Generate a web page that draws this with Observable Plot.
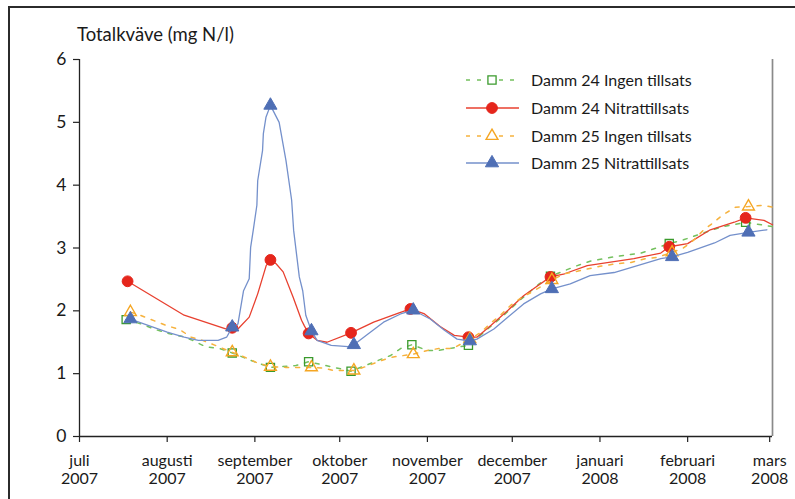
<!DOCTYPE html>
<html><head><meta charset="utf-8">
<script src="https://cdn.jsdelivr.net/npm/d3@7"></script>
<script src="https://cdn.jsdelivr.net/npm/@observablehq/plot@0.6"></script>
<style>
body{margin:0;background:#fff;overflow:hidden;}
#wrap{position:relative;width:795px;height:499px;overflow:hidden;background:#fff;font-family:Lato,sans-serif;}
#frame{position:absolute;left:8px;top:6px;width:900px;height:700px;border:2px solid #2b2b2b;box-sizing:border-box;}
#chart{position:absolute;left:0;top:0;}
#overlay{position:absolute;left:0;top:0;}
</style></head><body>
<div id="wrap"><div id="frame"></div><div id="chart"></div><svg id="overlay" width="795" height="499"></svg></div>
<script>
// ---- data ----
const yTitle = "Totalkväve (mg N/l)";
const seriesNames = ["Damm 24 Ingen tillsats", "Damm 24 Nitrattillsats", "Damm 25 Ingen tillsats", "Damm 25 Nitrattillsats"];
const xStart = "2007-07-01", xEnd = "2008-03-02";
const tickDates = ["2007-07-01","2007-08-01","2007-09-01","2007-10-01","2007-11-01","2007-12-01","2008-01-01","2008-02-01","2008-03-01"];
const tickMonths = ["juli","augusti","september","oktober","november","december","januari","februari","mars"];
const tickYears = ["2007","2007","2007","2007","2007","2007","2008","2008","2008"];
const yTicks = [0,1,2,3,4,5,6];

// Damm 24 Ingen tillsats
const d24iDates = ["2007-07-17T12","2007-08-24","2007-09-06T12","2007-09-20","2007-10-05","2007-10-26T12","2007-11-15T12","2007-12-14T12","2008-01-25T12","2008-02-21T12"];
const d24iValues = [1.86,1.33,1.10,1.19,1.04,1.46,1.45,2.55,3.07,3.41];
const d24iLineDates = ["2007-07-17T12","2007-07-23","2007-07-28","2007-08-01T12","2007-08-06T12","2007-08-10","2007-08-14T12","2007-08-19T12","2007-08-24","2007-08-29","2007-09-02","2007-09-06T12","2007-09-15T12","2007-09-20","2007-10-05","2007-10-19","2007-10-22T12","2007-10-26T12","2007-11-01","2007-11-05","2007-11-10","2007-11-15T12","2007-11-27","2007-12-04","2007-12-10T12","2007-12-14T12","2007-12-24","2007-12-28T12","2008-01-06","2008-01-15T12","2008-01-25T12","2008-01-30T12","2008-02-12T12","2008-02-21T12","2008-02-27","2008-03-02"];
const d24iLineValues = [1.86,1.79,1.70,1.64,1.59,1.53,1.43,1.40,1.33,1.24,1.17,1.10,1.13,1.19,1.04,1.29,1.40,1.46,1.37,1.37,1.41,1.45,1.89,2.18,2.43,2.55,2.72,2.79,2.86,2.92,3.07,3.13,3.33,3.41,3.37,3.34];

// Damm 24 Nitrattillsats
const d24nDates = ["2007-07-18","2007-08-24","2007-09-06T12","2007-09-20","2007-10-05","2007-10-26","2007-11-15T12","2007-12-14T12","2008-01-25T12","2008-02-21T12"];
const d24nValues = [2.47,1.73,2.81,1.64,1.65,2.03,1.58,2.54,3.02,3.48];
const d24nLineDates = ["2007-07-18","2007-08-07","2007-08-22T12","2007-08-24","2007-08-26","2007-08-30","2007-09-02","2007-09-05","2007-09-06T12","2007-09-08T12","2007-09-11","2007-09-14T12","2007-09-17T12","2007-09-18T12","2007-09-20","2007-09-23","2007-09-26T12","2007-10-05","2007-10-13","2007-10-21T12","2007-10-26","2007-10-31","2007-11-05T12","2007-11-10T12","2007-11-15T12","2007-11-18T12","2007-11-23T12","2007-11-29T12","2007-12-05","2007-12-10","2007-12-14T12","2007-12-19T12","2007-12-27T12","2008-01-13","2008-01-22T12","2008-01-25T12","2008-02-01","2008-02-09","2008-02-17T12","2008-02-21T12","2008-02-28","2008-03-02"];
const d24nLineValues = [2.47,1.93,1.70,1.73,1.71,1.90,2.27,2.72,2.81,2.75,2.62,2.22,1.85,1.76,1.64,1.53,1.50,1.65,1.82,1.96,2.03,1.95,1.75,1.61,1.58,1.58,1.77,2.01,2.24,2.40,2.54,2.59,2.72,2.83,2.92,3.02,3.07,3.29,3.41,3.48,3.44,3.37];

// Damm 25 Ingen tillsats
const d25iDates = ["2007-07-19","2007-08-24","2007-09-06T12","2007-09-21","2007-10-06","2007-10-27","2007-11-16","2007-12-15","2008-01-26T12","2008-02-22T12"];
const d25iValues = [1.98,1.34,1.11,1.10,1.05,1.31,1.55,2.49,2.93,3.66];
const d25iLineDates = ["2007-07-19","2007-07-22T12","2007-07-27T12","2007-07-31T12","2007-08-05T12","2007-08-09T12","2007-08-13T12","2007-08-18","2007-08-24","2007-08-28","2007-09-01T12","2007-09-06T12","2007-09-12","2007-09-16","2007-09-21","2007-09-25","2007-09-29","2007-10-06","2007-10-10","2007-10-14","2007-10-19","2007-10-27","2007-11-01","2007-11-05","2007-11-10","2007-11-16","2007-11-20","2007-11-23","2007-11-27","2007-11-30T12","2007-12-04T12","2007-12-08","2007-12-15","2007-12-19T12","2007-12-24","2008-01-01","2008-01-07","2008-01-12","2008-01-17","2008-01-21","2008-01-26T12","2008-01-30T12","2008-02-03","2008-02-06T12","2008-02-10","2008-02-13T12","2008-02-18","2008-02-22T12","2008-02-28","2008-03-02"];
const d25iLineValues = [1.98,1.93,1.84,1.77,1.70,1.58,1.53,1.45,1.34,1.27,1.18,1.11,1.10,1.10,1.10,1.09,1.05,1.05,1.11,1.18,1.26,1.31,1.37,1.40,1.40,1.55,1.66,1.79,1.94,2.09,2.22,2.30,2.49,2.59,2.63,2.71,2.75,2.77,2.83,2.85,2.93,3.00,3.12,3.28,3.40,3.53,3.65,3.66,3.68,3.65];

// Damm 25 Nitrattillsats
const d25nDates = ["2007-07-19","2007-08-24","2007-09-06T12","2007-09-21","2007-10-06","2007-10-27","2007-11-16","2007-12-15","2008-01-26T12","2008-02-22T12"];
const d25nValues = [1.87,1.74,5.27,1.68,1.46,2.01,1.52,2.35,2.86,3.25];
const d25nLineDates = ["2007-07-19","2007-07-24","2007-08-01","2007-08-07","2007-08-12","2007-08-19","2007-08-22","2007-08-24","2007-08-26","2007-08-28","2007-08-30","2007-08-30T12","2007-08-31T10","2007-09-01T17","2007-09-02","2007-09-03T17","2007-09-04T00","2007-09-04T22","2007-09-06T12","2007-09-09T14","2007-09-12","2007-09-14","2007-09-14T17","2007-09-16T17","2007-09-17T22","2007-09-19","2007-09-21","2007-09-23","2007-09-28","2007-10-04","2007-10-06","2007-10-11","2007-10-16T12","2007-10-22T12","2007-10-27","2007-11-02","2007-11-07","2007-11-11T12","2007-11-16","2007-11-18T12","2007-11-24T12","2007-11-29T12","2007-12-05","2007-12-11","2007-12-15","2007-12-21T12","2007-12-28T12","2008-01-06","2008-01-22T12","2008-01-26T12","2008-02-01","2008-02-10T12","2008-02-16","2008-02-22T12","2008-02-29"];
const d25nLineValues = [1.87,1.79,1.66,1.58,1.53,1.53,1.58,1.74,1.79,2.32,2.51,3.01,3.28,3.68,4.07,4.55,4.82,5.08,5.27,5.00,4.39,3.76,3.28,2.54,2.32,1.93,1.68,1.53,1.45,1.43,1.46,1.63,1.82,1.95,2.01,1.87,1.69,1.55,1.52,1.55,1.71,1.90,2.11,2.27,2.35,2.43,2.56,2.61,2.83,2.86,2.93,3.08,3.20,3.25,3.29];

// ---- helpers ----
const p = s => { const [d, h] = s.split("T"); return new Date(Date.UTC(+d.slice(0,4), +d.slice(5,7)-1, +d.slice(8,10), h ? +h : 0)); };
const rows = (dates, values) => dates.map((d, i) => ({date: p(d), value: values[i]}));

const styles = [
  {line: {stroke: "#74c05e", strokeWidth: 1.5, strokeDasharray: "4,7"}, dot: {symbol: "square", r: 4.6, stroke: "#3a9a2c", fill: "none", strokeWidth: 1.3}},
  {line: {stroke: "#e8402f", strokeWidth: 1.3}, dot: {symbol: "circle", r: 5.4, fill: "#e5261c", stroke: "#e5261c", strokeWidth: 1}},
  {line: {stroke: "#f6b23e", strokeWidth: 1.5, strokeDasharray: "4,7"}, dot: {symbol: "triangle", r: 4.4, stroke: "#f5a623", fill: "none", strokeWidth: 1.4}},
  {line: {stroke: "#7490cb", strokeWidth: 1.3}, dot: {symbol: "triangle", r: 4.9, fill: "#4f6fb5", stroke: "#4f6fb5", strokeWidth: 1}}
];
const lineData = [rows(d24iLineDates, d24iLineValues), rows(d24nLineDates, d24nLineValues), rows(d25iLineDates, d25iLineValues), rows(d25nLineDates, d25nLineValues)];
const dotData = [rows(d24iDates, d24iValues), rows(d24nDates, d24nValues), rows(d25iDates, d25iValues), rows(d25nDates, d25nValues)];

const tickLabel = new Map(tickDates.map((d, i) => [+p(d), tickMonths[i] + "\n" + tickYears[i]]));

const seriesMarks = [];
for (let i = 0; i < 4; i++) {
  seriesMarks.push(Plot.line(lineData[i], {x: "date", y: "value", curve: "linear", ...styles[i].line}));
  seriesMarks.push(Plot.dot(dotData[i], {x: "date", y: "value", ...styles[i].dot}));
}

const chart = Plot.plot({
  width: 795, height: 499,
  marginLeft: 79, marginRight: 23, marginTop: 59, marginBottom: 63,
  style: {fontFamily: "Lato, sans-serif", fontSize: "16px", color: "#1a1a1a", background: "transparent", overflow: "visible"},
  x: {type: "utc", domain: [p(xStart), p(xEnd)]},
  y: {domain: [0, 6]},
  marks: [
    Plot.ruleX([p(xEnd)], {stroke: "#8a8a8a", strokeWidth: 1.7}),
    Plot.axisY({ticks: yTicks, tickFormat: d3.format("d"), tickSize: 6, tickPadding: 7, fontSize: 17.5, label: null, stroke: "#222", strokeWidth: 1.2}),
    Plot.axisX({ticks: tickDates.map(p), tickFormat: d => tickLabel.get(+d), tickSize: 6, tickPadding: 10, label: null, lineHeight: 1.15, stroke: "#222", strokeWidth: 1.2}),
    Plot.ruleX([p(xStart)], {stroke: "#222", strokeWidth: 1.3}),
    Plot.ruleY([0], {stroke: "#222", strokeWidth: 1.3}),
    ...seriesMarks
  ]
});
document.getElementById("chart").appendChild(chart);

// ---- title + legend overlay ----
const ov = d3.select("#overlay").style("font-family", "Lato, sans-serif");
ov.append("text").attr("x", 77).attr("y", 41).attr("font-size", 18.5).attr("fill", "#1a1a1a").text(yTitle);
const legY = [80, 108, 136, 163];
seriesNames.forEach((name, i) => {
  const g = ov.append("g").attr("transform", `translate(0,${legY[i]})`);
  const ls = styles[i].line;
  g.append("line").attr("x1", 466).attr("x2", 519).attr("y1", 0).attr("y2", 0)
    .attr("stroke", ls.stroke).attr("stroke-width", ls.strokeWidth).attr("stroke-dasharray", ls.strokeDasharray || null);
  const ds = styles[i].dot;
  const sym = {square: d3.symbolSquare, circle: d3.symbolCircle, triangle: d3.symbolTriangle}[ds.symbol];
  g.append("path").attr("transform", "translate(492,0)")
    .attr("d", d3.symbol(sym, Math.PI * ds.r * ds.r)())
    .attr("fill", ds.fill === "none" ? "#fff" : ds.fill).attr("stroke", ds.stroke).attr("stroke-width", ds.strokeWidth);
  g.append("text").attr("x", 531).attr("y", 6).attr("font-size", 16).attr("fill", "#1a1a1a").text(name);
});
</script>
</body></html>
